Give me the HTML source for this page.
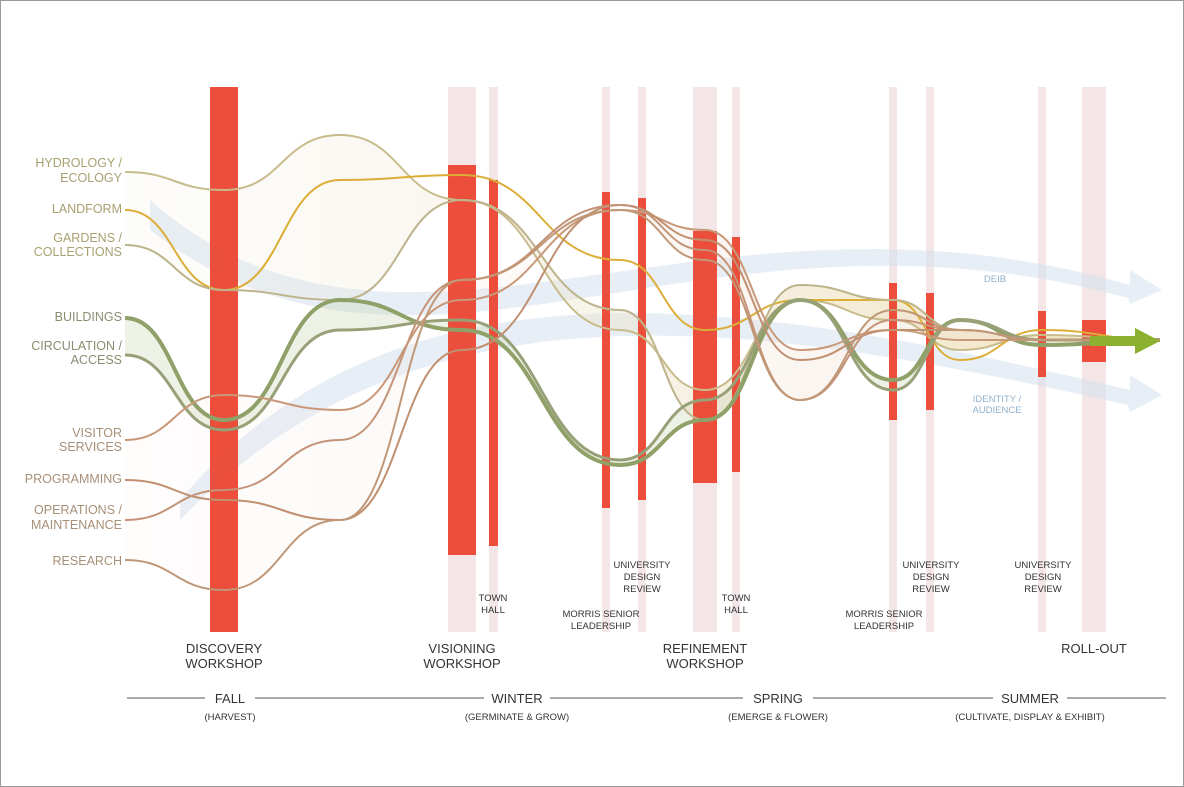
<!DOCTYPE html>
<html><head><meta charset="utf-8"><style>
html,body{margin:0;padding:0;background:#fff}
#wrap{position:relative;width:1184px;height:787px;overflow:hidden;background:#fff}
#frame{position:absolute;left:0;top:0;width:1182px;height:785px;border:1px solid #9a9a9a}
svg text{font-family:"Liberation Sans",sans-serif}
</style></head><body>
<div id="wrap">
<div id="frame"></div>
<svg id="chart" width="1184" height="787" style="position:absolute;left:0;top:0">
<defs>
<linearGradient id="fadeR" x1="0" x2="1" y1="0" y2="0"><stop offset="0" stop-color="#efe9d8" stop-opacity="0.1"/><stop offset="0.5" stop-color="#ebe3c8" stop-opacity="0.45"/><stop offset="1" stop-color="#e8cc88" stop-opacity="0.55"/></linearGradient>
<linearGradient id="fadeB" x1="0" x2="1" y1="0" y2="0"><stop offset="0" stop-color="#f4ebe4" stop-opacity="0.1"/><stop offset="1" stop-color="#f0dccc" stop-opacity="0.45"/></linearGradient>
</defs>
<g id="pale"></g><g id="arrows"></g><g id="ribbons"></g><g id="reds"></g><g id="lines"></g><g id="labels"></g>
</svg>
</div>
<script>
const NS="http://www.w3.org/2000/svg";
// stage x-positions (timeline columns) and series values (vertical positions)
const stageX=[125,224,340,462,620,705,800,893,960,1042,1160];
const seriesNames=["hydrology","landform","gardens","buildings","circulation","visitor-services","programming","operations","research"];
const hydrology=[172,190,135,200,330,390,300,320,350,335,340];
const landform=[210,290,180,175,260,330,300,300,360,330,340];
const gardens=[245,290,300,200,310,420,285,300,330,340,340];
const buildings=[318,420,300,330,465,420,300,380,320,345,340];
const circulation=[355,430,330,320,460,400,300,390,320,340,340];
const visitor=[440,395,410,300,210,230,350,330,340,340,340];
const programming=[480,500,520,350,205,240,360,330,330,340,340];
const operations=[520,490,440,280,205,250,400,320,330,340,340];
const research=[560,590,520,280,210,260,400,310,330,340,340];
const seriesColors=["#c8bb8c","#dcae38","#bdb48c","#8fa068","#98a078","#c89878","#c09070","#c49478","#c09878"];
const seriesWidths=[2,2,2,4,3,2,2,2,2];
// events: name, x, width, red top, red bottom
const eventNames=["discovery","visioning","town-hall-1","morris-1","univ-review-1","refinement","town-hall-2","morris-2","univ-review-2","univ-review-3","roll-out"];
const eventX=[210,448,489,602,638,693,732,889,926,1038,1082];
const eventW=[28,28,9,8,8,24,8,8,8,8,24];
const redTop=[87,165,180,192,198,231,237,283,293,311,320];
const redBot=[632,555,546,508,500,483,472,420,410,377,362];

function el(t,a,p){const e=document.createElementNS(NS,t);for(const k in a)e.setAttribute(k,a[k]);document.getElementById(p).appendChild(e);return e;}
function path(ys){const pts=stageX.map((x,i)=>[x,ys[i]]);let d="M"+pts[0][0]+","+pts[0][1];
 for(let i=0;i<pts.length-1;i++){const p0=pts[i],p1=pts[i+1],dx=(p1[0]-p0[0])*0.5;d+=` C${p0[0]+dx},${p0[1]} ${p1[0]-dx},${p1[1]} ${p1[0]},${p1[1]}`;}return d;}
function revPath(ys){const pts=stageX.map((x,i)=>[x,ys[i]]).reverse();let d="";
 for(let i=0;i<pts.length-1;i++){const p0=pts[i],p1=pts[i+1],dx=(p1[0]-p0[0])*0.5;d+=` C${p0[0]+dx},${p0[1]} ${p1[0]-dx},${p1[1]} ${p1[0]},${p1[1]}`;}return d;}

eventX.forEach((x,i)=>{
 const p=el("rect",{x:x,y:87,width:eventW[i],height:545,fill:"#f4e6e6"},"pale");
 
 
 const r=el("rect",{x:x,y:redTop[i],width:eventW[i],height:redBot[i]-redTop[i],fill:"#ea412c","fill-opacity":0.92},"reds");
 
 
});

const a1=el("path",{d:"M150,200 C400,420 700,160 1130,285 L1130,270 L1162,290 L1130,304 L1128,298 C700,180 420,440 150,230Z",fill:"#d4e0ee","fill-opacity":0.55},"arrows");

const a2=el("path",{d:"M180,500 C400,240 750,300 1130,390 L1130,375 L1162,395 L1130,412 L1128,405 C750,320 420,270 180,520Z",fill:"#d4e0ee","fill-opacity":0.55},"arrows");


const rb1=el("path",{d:path(hydrology)+" L"+stageX[stageX.length-1]+","+gardens[gardens.length-1]+revPath(gardens)+"Z",fill:"url(#fadeR)"},"ribbons");

const rb2=el("path",{d:path(visitor)+" L"+stageX[stageX.length-1]+","+research[research.length-1]+revPath(research)+"Z",fill:"url(#fadeB)"},"ribbons");

const rb3=el("path",{d:path(buildings)+revPath(circulation)+"Z",fill:"#c8d0a8","fill-opacity":0.3},"ribbons");


[hydrology,landform,gardens,buildings,circulation,visitor,programming,operations,research].forEach((ys,i)=>{
 const l=el("path",{d:path(ys),fill:"none",stroke:seriesColors[i],"stroke-width":seriesWidths[i]},"lines");
 
 
});
const ga=el("path",{d:"M1090,336 L1135,336 L1135,328 L1160,341 L1135,354 L1135,346 L1090,346Z",fill:"#8cb030"},"lines");


function txt(s,x,y,o){const t=el("text",Object.assign({x:x,y:y,"font-size":13,fill:"#333","text-anchor":"middle"},o||{}),"labels");t.textContent=s;return t;}
const left=[["HYDROLOGY /",167,"#a8a070"],["ECOLOGY",182,"#a8a070"],["LANDFORM",213,"#a8a070"],["GARDENS /",242,"#a8a070"],["COLLECTIONS",256,"#a8a070"],["BUILDINGS",321,"#8c8c70"],["CIRCULATION /",350,"#8c8c70"],["ACCESS",364,"#8c8c70"],["VISITOR",437,"#a89078"],["SERVICES",451,"#a89078"],["PROGRAMMING",483,"#a89078"],["OPERATIONS /",514,"#a89078"],["MAINTENANCE",529,"#a89078"],["RESEARCH",565,"#a89078"]];
left.forEach(a=>{const t=txt(a[0],122,a[1],{"text-anchor":"end",fill:a[2],"font-size":12.5});});
const ev=[["DISCOVERY",224,653,13],["WORKSHOP",224,668,13],["VISIONING",462,653,13],["WORKSHOP",462,668,13],["TOWN",493,601,9.5],["HALL",493,613,9.5],["UNIVERSITY",642,568,9.5],["DESIGN",642,580,9.5],["REVIEW",642,592,9.5],["MORRIS SENIOR",601,617,9.5],["LEADERSHIP",601,629,9.5],["REFINEMENT",705,653,13],["WORKSHOP",705,668,13],["TOWN",736,601,9.5],["HALL",736,613,9.5],["UNIVERSITY",931,568,9.5],["DESIGN",931,580,9.5],["REVIEW",931,592,9.5],["MORRIS SENIOR",884,617,9.5],["LEADERSHIP",884,629,9.5],["UNIVERSITY",1043,568,9.5],["DESIGN",1043,580,9.5],["REVIEW",1043,592,9.5],["ROLL-OUT",1094,653,13]];
ev.forEach(a=>{const t=txt(a[0],a[1],a[2],{"font-size":a[3]});});
const deib=txt("DEIB",995,282,{"font-size":9.5,fill:"#90b0cc"});
const id1=txt("IDENTITY /",997,402,{"font-size":9.5,fill:"#90b0cc"});
const id2=txt("AUDIENCE",997,413,{"font-size":9.5,fill:"#90b0cc"});
const seasons=[["FALL","(HARVEST)",230],["WINTER","(GERMINATE & GROW)",517],["SPRING","(EMERGE & FLOWER)",778],["SUMMER","(CULTIVATE, DISPLAY & EXHIBIT)",1030]];
const segs=[[127,205],[255,484],[550,743],[813,993],[1067,1166]];
segs.forEach(s=>{const l=el("line",{x1:s[0],x2:s[1],y1:698,y2:698,stroke:"#555","stroke-width":1},"labels");});
seasons.forEach(s=>{const a=txt(s[0],s[2],703,{"font-size":13});
 const b=txt(s[1],s[2],720,{"font-size":9.5});});
</script>
</body></html>
